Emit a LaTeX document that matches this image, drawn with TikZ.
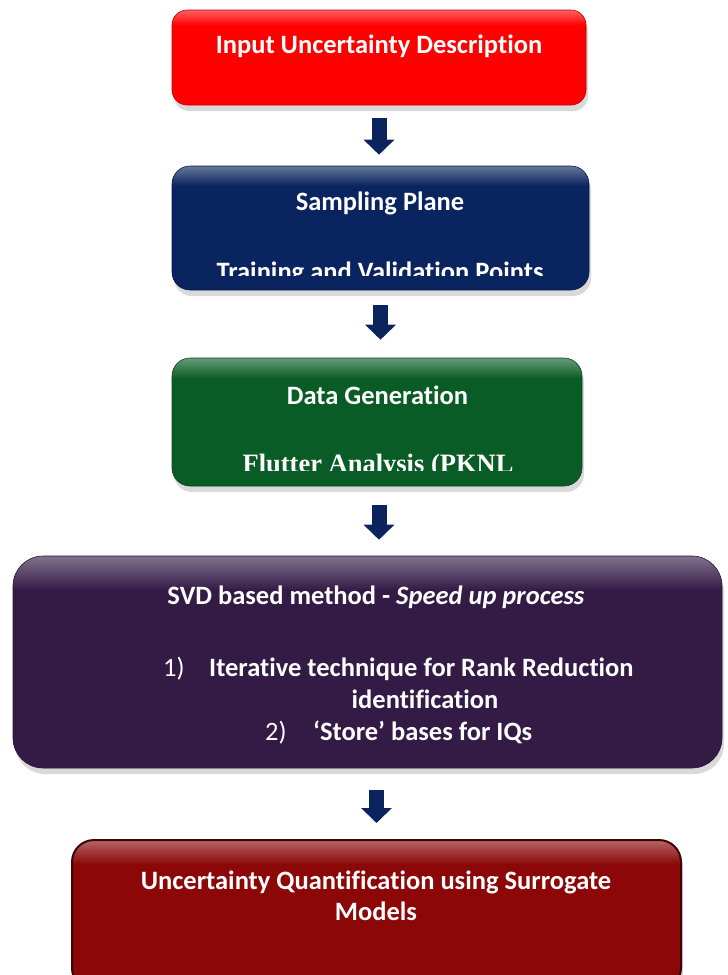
\documentclass[tikz,border=0pt]{standalone}
\usepackage{fontspec}
\setmainfont{Carlito}[Ligatures={TeX,NoCommon}]
\newfontfamily\timesfont{Liberation Serif}
\usetikzlibrary{shadows,arrows.meta,positioning}
\definecolor{255_0_0}{RGB}{255, 0, 0}
\definecolor{10_36_96}{RGB}{10, 36, 96}
\definecolor{10_92_38}{RGB}{10, 92, 38}
\definecolor{52_27_70}{RGB}{52, 27, 70}
\definecolor{140_8_8}{RGB}{140, 8, 8}
\definecolor{60_5_5}{RGB}{60, 5, 5}
\definecolor{12_36_94}{RGB}{12, 36, 94}
\definecolor{white}{RGB}{255, 255, 255}
\colorlet{glosscol}{255_0_0}
\pgfdeclareverticalshading[glosscol]{gloss}{100bp}{color(0bp)=(glosscol); color(67bp)=(glosscol); color(75bp)=(glosscol!62!white); color(100bp)=(glosscol!62!white)}

\begin{document}
\begin{tikzpicture}[
        x=1pt, y=-1pt,
        glossbox/.style={
            rectangle,
            /utils/exec={\colorlet{glosscol}{#1}},
            shading=gloss,
            draw=#1!75!black,
            line width=0.6pt,
            drop shadow={shadow xshift=2pt, shadow yshift=-6pt, opacity=0.3},
            inner sep=0pt
        },
        boxtext/.style={
            text=white,
            font=\fontsize{26.5}{31}\selectfont\bfseries,
            align=center,
            inner sep=0pt
        },
        flowarrow/.style={
            draw=12_36_94,
            line width=15pt,
            -{Triangle[width=30pt, length=15pt]}
        }
    ]
    \useasboundingbox (0,0) rectangle (728,975);

    % boxes
    \node[glossbox=255_0_0, rounded corners=15pt,
          minimum width=414pt, minimum height=95pt] (input) at (379,57.5) {};
    \node[glossbox=10_36_96, rounded corners=18pt,
          minimum width=417pt, minimum height=124pt] (samp) at (380.5,228) {};
    \node[glossbox=10_92_38, rounded corners=18pt,
          minimum width=410pt, minimum height=128pt] (gen) at (377,422) {};
    \node[glossbox=52_27_70, rounded corners=30pt,
          minimum width=709pt, minimum height=212pt] (svd) at (367.5,662) {};
    \node[glossbox=140_8_8, draw=60_5_5, line width=2pt, rounded corners=22pt,
          minimum width=609pt, minimum height=150pt] (uq) at (376.5,915) {};

    % texts
    \node[boxtext] (inputtxt) at (379,46) {Input Uncertainty Description};
    \node[boxtext] (samptxt) at (380,203) {Sampling Plane};
    \begin{scope}
        \clip (samp.north west) rectangle ([yshift=15pt]samp.south east);
        \node[boxtext, anchor=base] (pointstxt) at (380,280) {Training and Validation Points};
    \end{scope}
    \node[boxtext] (gentxt) at (377.5,395) {Data Generation};
    \begin{scope}
        \clip (gen.north west) rectangle ([yshift=16pt]gen.south east);
        \node[boxtext, font=\fontsize{26.5}{30}\selectfont\timesfont\bfseries, anchor=base]
            (fluttertxt) at (378,472) {Flutter Analysis (PKNL};
    \end{scope}
    \node[boxtext] (svdtxt) at (376,597) {SVD based method - \textit{Speed up process}};
    \node[boxtext, font=\fontsize{26.5}{31}\selectfont, anchor=base west] (one) at (163,676) {1)};
    \node[boxtext, anchor=base west] (onetxt) at (209,676) {Iterative technique for Rank Reduction};
    \node[boxtext, anchor=base] (identtxt) at (425,708) {identification};
    \node[boxtext, font=\fontsize{26.5}{31}\selectfont, anchor=base west] (two) at (265,740) {2)};
    \node[boxtext, anchor=base west] (twotxt) at (313,740) {`Store' bases for IQs};
    \node[boxtext] (uqtxt) at (376,896) {Uncertainty Quantification using Surrogate\\Models};

    % arrows
    \draw[flowarrow] ([yshift=-13pt]input.south) -- ([yshift=11pt]input.south |- samp.north);
    \draw[flowarrow] ([yshift=-15pt]samp.south) -- ([yshift=18pt]samp.south |- gen.north);
    \draw[flowarrow] ([yshift=-19pt]gen.south -| input.south) -- ([yshift=16pt]input.south |- svd.north);
    \draw[flowarrow] ([yshift=-22pt]svd.south -| uq.north) -- ([yshift=16pt]uq.north);
\end{tikzpicture}
\end{document}
